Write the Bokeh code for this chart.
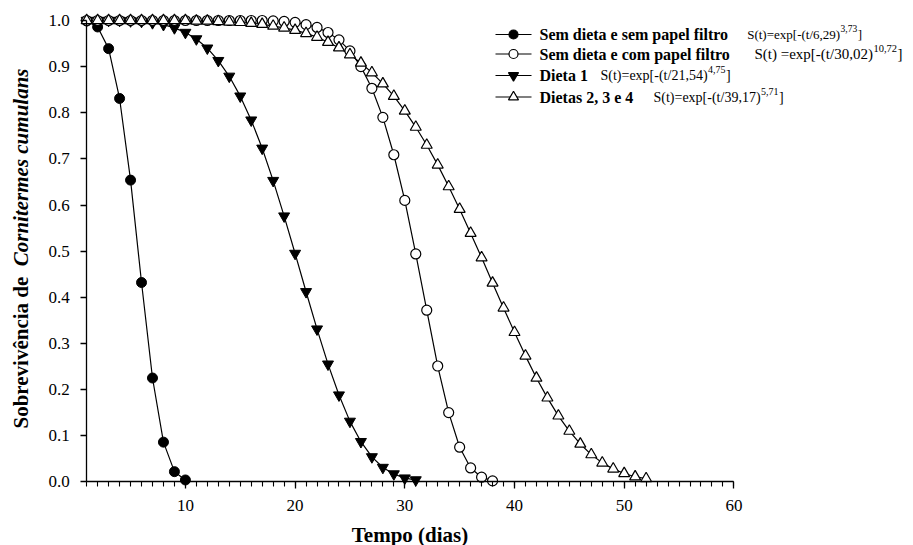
from bokeh.plotting import figure
from bokeh.models import Range1d, FixedTicker, NumeralTickFormatter, Label
from bokeh.embed import file_html
from bokeh.resources import INLINE
import math

# ---------------- data ----------------
days_sem_sem = list(range(1, 11))
surv_sem_sem = [0.999, 0.986, 0.939, 0.831, 0.654, 0.432, 0.225, 0.086, 0.022, 0.004]

days_sem_com = list(range(1, 39))
surv_sem_com = [1.000, 1.000, 1.000, 1.000, 1.000, 1.000, 1.000, 1.000, 1.000, 1.000,
                1.000, 1.000, 1.000, 1.000, 1.000, 1.000, 1.000, 0.999, 0.998, 0.996,
                0.991, 0.985, 0.974, 0.958, 0.934, 0.900, 0.853, 0.790, 0.709, 0.610,
                0.494, 0.372, 0.251, 0.150, 0.075, 0.030, 0.010, 0.002]

days_dieta1 = list(range(1, 32))
surv_dieta1 = [1.000, 1.000, 1.000, 1.000, 0.999, 0.998, 0.995, 0.991, 0.984, 0.974,
               0.960, 0.940, 0.913, 0.879, 0.836, 0.784, 0.723, 0.653, 0.576, 0.495,
               0.412, 0.331, 0.255, 0.188, 0.131, 0.087, 0.054, 0.031, 0.017, 0.008,
               0.004]

days_dietas234 = list(range(1, 53))
surv_dietas234 = [1.000, 1.000, 1.000, 1.000, 1.000, 1.000, 1.000, 1.000, 1.000, 1.000,
                  0.999, 0.999, 0.998, 0.997, 0.996, 0.994, 0.992, 0.988, 0.984, 0.979,
                  0.972, 0.964, 0.953, 0.941, 0.926, 0.908, 0.887, 0.863, 0.836, 0.804,
                  0.769, 0.730, 0.687, 0.640, 0.591, 0.539, 0.486, 0.431, 0.377, 0.324,
                  0.273, 0.225, 0.182, 0.143, 0.110, 0.082, 0.059, 0.041, 0.028, 0.018,
                  0.011, 0.007]

x_major_ticks = [10, 20, 30, 40, 50, 60]
x_minor_ticks = list(range(1, 61))
y_ticks = [0.0, 0.1, 0.2, 0.3, 0.4, 0.5, 0.6, 0.7, 0.8, 0.9, 1.0]

legend_names = ["Sem dieta e sem papel filtro", "Sem dieta e com papel filtro",
                "Dieta 1", "Dietas 2, 3 e 4"]
legend_formula = ["S(t)=exp[-(t/6,29)", "S(t) =exp[-(t/30,02)",
                  "S(t)=exp[-(t/21,54)", "S(t)=exp[-(t/39,17)"]
legend_exponent = ["3,73", "10,72", "4,75", "5,71"]

# ---------------- figure ----------------
FONT = "Liberation Serif"
W, H = 913, 545
PX = 10.97          # pixels per day
PY = 461.3          # pixels per unit survival
X0PIX = 75.2        # pixel of day 0
Y0PIX = 481.3       # pixel of survival 0

p = figure(width=W, height=H, output_backend="svg", toolbar_location=None,
           x_range=Range1d(-X0PIX / PX, (W - X0PIX) / PX),
           y_range=Range1d((Y0PIX - H) / PY, Y0PIX / PY),
           min_border_left=0, min_border_right=0, min_border_top=0,
           min_border_bottom=0)
p.outline_line_color = None
p.xgrid.visible = False
p.ygrid.visible = False
p.background_fill_color = "white"

for ax in (p.xaxis[0], p.yaxis[0]):
    ax.axis_line_color = "black"
    ax.axis_line_width = 1.3
    ax.major_tick_line_color = "black"
    ax.major_tick_line_width = 1.3
    ax.minor_tick_line_color = "black"
    ax.minor_tick_line_width = 1.1
    ax.major_tick_in = 0
    ax.minor_tick_in = 0
    ax.major_label_text_font = FONT
    ax.major_label_text_font_size = "17px"
    ax.major_label_text_color = "black"
    ax.axis_label_text_font = FONT
    ax.axis_label_text_font_size = "21px"
    ax.axis_label_text_font_style = "bold"
    ax.axis_label_text_color = "black"

xa = p.xaxis[0]
xa.ticker = FixedTicker(ticks=x_major_ticks, minor_ticks=x_minor_ticks)
xa.bounds = (1, 60)
xa.fixed_location = 0
xa.major_tick_out = 7
xa.minor_tick_out = 5
xa.major_label_standoff = 11
xa.axis_label = "Tempo (dias)"
xa.axis_label_standoff = 9

ya = p.yaxis[0]
ya.ticker = FixedTicker(ticks=y_ticks)
ya.formatter = NumeralTickFormatter(format="0.0")
ya.bounds = (0, 1)
ya.fixed_location = 1
ya.major_tick_out = 6
ya.minor_tick_out = 0
ya.major_label_standoff = 11

# ---------------- series ----------------
LW = 1.2
p.line(days_sem_sem, surv_sem_sem, line_color="black", line_width=LW)
p.line(days_dieta1, surv_dieta1, line_color="black", line_width=LW)
p.line(days_sem_com, surv_sem_com, line_color="black", line_width=LW)
p.line(days_dietas234, surv_dietas234, line_color="black", line_width=LW)

p.scatter(days_sem_sem, surv_sem_sem, marker="circle", size=10,
          fill_color="black", line_color="black")
p.scatter(days_dieta1, surv_dieta1, marker="inverted_triangle", size=11,
          fill_color="black", line_color="black")
p.scatter(days_sem_com, surv_sem_com, marker="circle", size=10,
          fill_color="white", line_color="black", line_width=1.2)
p.scatter(days_dietas234, surv_dietas234, marker="triangle", size=11,
          fill_color="white", line_color="black", line_width=1.2)

# ---------------- legend (drawn by hand: mixed bold / superscript) ----------------
def dx(px):
    return (px - X0PIX) / PX

def dy(py):
    return (Y0PIX - py) / PY

row_y = [dy(34), dy(53.5), dy(75), dy(96.5)]
line_x0, line_x1, mark_x = dx(495), dx(531), dx(513)
name_x = dx(539)
formula_x = [dx(746.7), dx(754), dx(600), dx(653)]
formula_size = [13, 15, 14, 14]
exponent_size = [9.5, 10.5, 10, 10]
styles = [dict(marker="circle", size=9, fill_color="black"),
          dict(marker="circle", size=9, fill_color="white"),
          dict(marker="inverted_triangle", size=10, fill_color="black"),
          dict(marker="triangle", size=10, fill_color="white")]

TNR = {"S": 556, "(": 333, ")": 333, "t": 278, "=": 564, "e": 444, "x": 500,
       "p": 500, "[": 333, "-": 333, "/": 278, ",": 250, " ": 250, "]": 333}
for d in "0123456789":
    TNR[d] = 500

def text_w(s, size):
    return sum(TNR.get(c, 500) for c in s) * size / 1000.0

for i in range(4):
    y = row_y[i]
    fs, ss = formula_size[i], exponent_size[i]
    p.line([line_x0, line_x1], [y, y], line_color="black", line_width=1.2)
    st = styles[i]
    p.scatter([mark_x], [y], marker=st["marker"], size=st["size"],
              fill_color=st["fill_color"], line_color="black", line_width=1.2)
    p.add_layout(Label(x=name_x, y=y, text=legend_names[i], text_font=FONT,
                       text_font_size="16px", text_font_style="bold",
                       text_align="left", text_baseline="middle", text_color="black"))
    fx = formula_x[i]
    p.add_layout(Label(x=fx, y=y, text=legend_formula[i], text_font=FONT,
                       text_font_size=f"{fs}px", text_align="left",
                       text_baseline="middle", text_color="black"))
    sx = fx + (text_w(legend_formula[i], fs) + 0.5) / PX
    p.add_layout(Label(x=sx, y=y + 6.0 / PY, text=legend_exponent[i], text_font=FONT,
                       text_font_size=f"{ss}px", text_align="left",
                       text_baseline="middle", text_color="black"))
    bx = sx + (text_w(legend_exponent[i], ss) + 0.5) / PX
    p.add_layout(Label(x=bx, y=y, text="]", text_font=FONT,
                       text_font_size=f"{fs}px", text_align="left",
                       text_baseline="middle", text_color="black"))

# ---------------- y-axis title (bold + bold italic) ----------------
ylab_x = dx(20.5)
p.add_layout(Label(x=ylab_x, y=dy(428), text="Sobrevivência de ",
                   text_font=FONT, text_font_size="21px", text_font_style="bold",
                   text_align="left", text_baseline="middle", angle=math.pi / 2,
                   text_color="black"))
p.add_layout(Label(x=ylab_x, y=dy(68), text="Cornitermes cumulans",
                   text_font=FONT, text_font_size="21px", text_font_style="bold italic",
                   text_align="right", text_baseline="middle", angle=math.pi / 2,
                   text_color="black"))

open("out.html", "w").write(file_html(p, INLINE))
